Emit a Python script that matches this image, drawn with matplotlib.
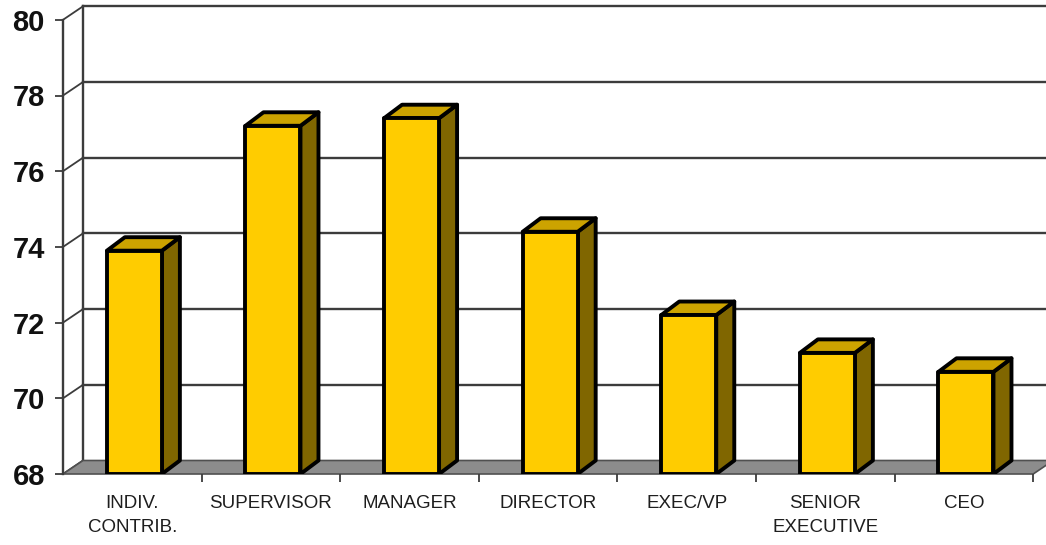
import matplotlib
matplotlib.use("Agg")
import matplotlib.pyplot as plt
from matplotlib.patches import Polygon
import numpy as np

categories = ["INDIV.\nCONTRIB.", "SUPERVISOR", "MANAGER", "DIRECTOR",
              "EXEC/VP", "SENIOR\nEXECUTIVE", "CEO"]
values = [73.9, 77.2, 77.4, 74.4, 72.2, 71.2, 70.7]
y_ticks = [68, 70, 72, 74, 76, 78, 80]

plt.rcParams['font.family'] = ['Liberation Sans', 'DejaVu Sans']

W, H = 1046, 545
px_x = 138.6   # pixels per category
px_y = 37.85   # pixels per unit
ymin, ymax = 68, 80

# oblique offsets (pixels -> data units)
wall_dx, wall_dy = 20 / px_x, 13.5 / px_y
bar_dx, bar_dy = 18 / px_x, 13.5 / px_y
bar_w = 55 / px_x

fig = plt.figure(figsize=(W / 100, H / 100), dpi=100)
left, bottom = 63, 71
ax = fig.add_axes([left / W, bottom / H, (W - left) / W, (H - bottom) / H])
n = len(categories)
ax.set_xlim(0, (W - left) / px_x)
ax.set_ylim(ymin, ymin + (H - bottom) / px_y)

grid_c = '#3c3c3c'

# floor
floor = Polygon([(0, ymin), (n, ymin), (n + wall_dx, ymin + wall_dy),
                 (wall_dx, ymin + wall_dy)], closed=True,
                facecolor='#8c8c8c', edgecolor='#505050', lw=1.2, zorder=1,
                clip_on=False)
ax.add_patch(floor)

# back wall gridlines and left wall diagonals
for v in y_ticks:
    if v > ymin:
        ax.plot([wall_dx, 10], [v + wall_dy, v + wall_dy], color=grid_c,
                lw=1.7, zorder=0.5)
    ax.plot([0, wall_dx], [v, v + wall_dy], color=grid_c, lw=1.3, zorder=0.5)
ax.plot([wall_dx, wall_dx], [ymin + wall_dy, ymax + wall_dy], color=grid_c,
        lw=1.7, zorder=0.5)

# 3D bars
x = np.arange(n) + 0.5 + 0.015
edge = dict(edgecolor='black', lw=2.8, joinstyle='round')
for xi, v in zip(x, values):
    l, r = xi - bar_w / 2, xi + bar_w / 2
    side = Polygon([(r, ymin), (r + bar_dx, ymin + bar_dy),
                    (r + bar_dx, v + bar_dy), (r, v)],
                   closed=True, facecolor='#806600', zorder=3, **edge)
    top = Polygon([(l, v), (r, v), (r + bar_dx, v + bar_dy),
                   (l + bar_dx, v + bar_dy)],
                  closed=True, facecolor='#CCA300', zorder=3, **edge)
    ax.add_patch(side)
    ax.add_patch(top)
ax.bar(x, np.array(values) - ymin, bottom=ymin, width=bar_w,
       color='#FFCC00', zorder=4, **edge)

# axes styling
for s in ['top', 'right', 'bottom']:
    ax.spines[s].set_visible(False)
ax.spines['left'].set_bounds(ymin, ymax)
ax.spines['left'].set_color(grid_c)
ax.spines['left'].set_linewidth(1.7)

ax.set_yticks(y_ticks)
ax.set_yticklabels([str(t) for t in y_ticks], fontsize=21, fontweight='bold',
                   color='#111111')
ax.tick_params(axis='y', direction='out', length=6, width=1.3, color=grid_c,
               pad=7)

ax.set_xticks(np.arange(n) + 0.5)
ax.set_xticklabels(categories, fontsize=13.5, color='#1e1e1e',
                   linespacing=1.55)
ax.set_xticks(np.arange(1, n + 1), minor=True)
ax.tick_params(axis='x', which='major', length=0, pad=15)
ax.tick_params(axis='x', which='minor', direction='out', length=6, width=1.3,
               color=grid_c)

fig.savefig("out.png", dpi=100)
